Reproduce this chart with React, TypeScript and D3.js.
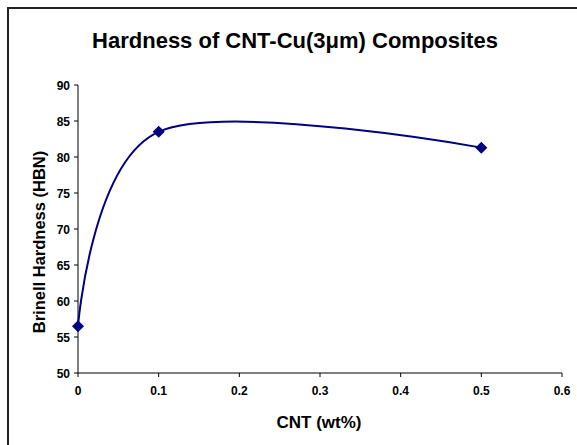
import React from "react";
import * as d3 from "d3";

const cntWt = [0, 0.1, 0.5];
const hardness = [56.5, 83.5, 81.3];
const xTicks = [0, 0.1, 0.2, 0.3, 0.4, 0.5, 0.6];
const yTicks = [50, 55, 60, 65, 70, 75, 80, 85, 90];
const title = "Hardness of CNT-Cu(3μm) Composites";
const xTitle = "CNT (wt%)";
const yTitle = "Brinell Hardness (HBN)";

export default function App() {
  const W = 577, H = 445;
  const x = d3.scaleLinear().domain([0, 0.6]).range([78, 562]);
  const y = d3.scaleLinear().domain([50, 90]).range([373, 85]);
  const pts: [number, number][] = cntWt.map((c, i) => [x(c), y(hardness[i])]);
  const line = d3.line().curve(d3.curveCardinal.tension(0));
  const d = line(pts) || "";
  const color = "#000080";
  const font = "Arial, 'Liberation Sans', sans-serif";
  return (
    <svg width={W} height={H} style={{ position: "absolute", left: 0, top: 0, background: "#fff" }} fontFamily={font}>
      <rect x={0} y={0} width={W} height={H} fill="#fff" />
      <path d={`M8,${H + 2} L8,8 L${W + 2},8`} fill="none" stroke="#222" strokeWidth={2} />
      <text x={295} y={48} textAnchor="middle" fontSize={22} fontWeight="bold">{title}</text>
      {/* axes */}
      <line x1={x(0)} x2={x(0)} y1={y(90)} y2={y(50)} stroke="#000" strokeWidth={1} />
      <line x1={x(0)} x2={x(0.6)} y1={y(50)} y2={y(50)} stroke="#000" strokeWidth={1} />
      {yTicks.map((t) => (
        <g key={"y" + t}>
          <line x1={x(0) - 4} x2={x(0)} y1={y(t)} y2={y(t)} stroke="#000" />
          <text x={70} y={y(t) + 4.5} textAnchor="end" fontSize={12} fontWeight="bold">{t}</text>
        </g>
      ))}
      {xTicks.map((t) => (
        <g key={"x" + t}>
          <line x1={x(t)} x2={x(t)} y1={y(50)} y2={y(50) + 4} stroke="#000" />
          <text x={x(t)} y={395} textAnchor="middle" fontSize={12} fontWeight="bold">{t}</text>
        </g>
      ))}
      <text x={319} y={428} textAnchor="middle" fontSize={17} fontWeight="bold">{xTitle}</text>
      <text transform={`translate(45,242) rotate(-90)`} textAnchor="middle" fontSize={16.5} fontWeight="bold">{yTitle}</text>
      <path d={d} fill="none" stroke={color} strokeWidth={2} />
      {pts.map(([px, py], i) => (
        <path key={i} d={`M${px},${py - 6} L${px + 6},${py} L${px},${py + 6} L${px - 6},${py} Z`} fill={color} />
      ))}
    </svg>
  );
}
